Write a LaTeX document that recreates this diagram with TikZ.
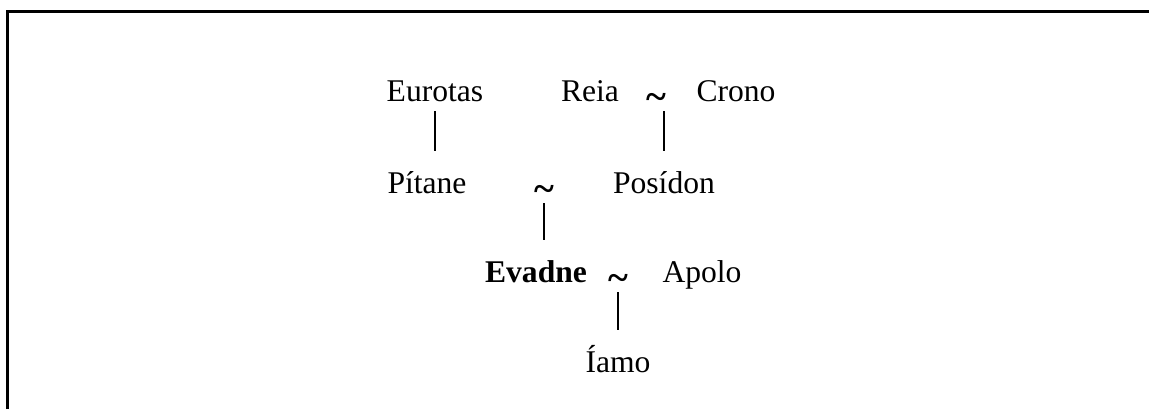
\documentclass[tikz,border=0pt]{standalone}
\usepackage{fontspec}
\setmainfont{Liberation Serif}
\usepackage{tikz}
\usetikzlibrary{positioning}
\tikzset{
    person/.style={
                inner sep=0pt,
                anchor=base,
                text height=11pt,
                text depth=0pt,
                font=\fontsize{15.8}{18}\selectfont
            },
        union/.style={
                person,
                yshift=-4pt,
                font=\fontsize{19}{20}\selectfont\bfseries
            },
        descent/.style={
                line width=0.9pt,
                shorten <=5pt,
                shorten >=10pt
            },
        frame/.style={
                line width=1.5pt
            }
}
\begin{document}
\begin{tikzpicture}[x=0.5pt,y=-0.5pt]
  \useasboundingbox (0,0) rectangle (1149,409);
  % Frame (top and left only)
  \draw[frame] (7,409) -- (7,11) -- (1149,11);
  % First generation
  \node[person] (eurotas) at (435,101) {Eurotas};
  \node[person] (reia) at (590,101) {Reia};
  \node[union] (u1) at (656,101) {\textasciitilde};
  \node[person] (crono) at (736,101) {Crono};
  % Second generation
  \node[person] (pitane) at (427,193) {Pítane};
  \node[union] (u2) at (544,193) {\textasciitilde};
  \node[person] (posidon) at (664,193) {Posídon};
  % Third generation
  \node[person,font=\fontsize{15.8}{18}\selectfont\bfseries] (evadne) at (536,282) {Evadne};
  \node[union] (u3) at (618,282) {\textasciitilde};
  \node[person] (apolo) at (702,282) {Apolo};
  % Fourth generation
  \node[person] (iamo) at (618,372) {Íamo};
  % Descent lines
  \draw[descent] (eurotas.south) -- (eurotas.south |- pitane.north);
  \draw[descent] ([yshift=4pt]u1.south -| posidon.north) -- (posidon.north);
  \draw[descent] ([yshift=4pt]u2.south) -- (u2.south |- evadne.north);
  \draw[descent] ([yshift=4pt]u3.south) -- (iamo.north);
\end{tikzpicture}
\end{document}
